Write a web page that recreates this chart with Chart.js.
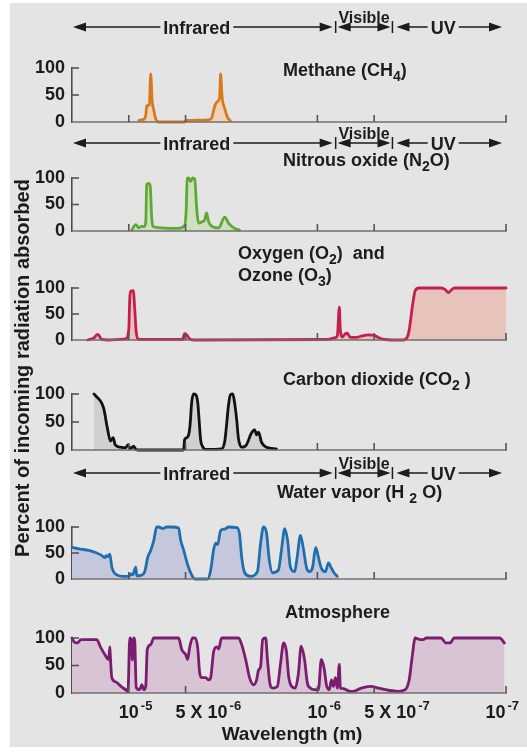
<!DOCTYPE html>
<html><head><meta charset="utf-8">
<script src="https://cdn.jsdelivr.net/npm/chart.js@4/dist/chart.umd.min.js"></script>
<style>
html,body{margin:0;padding:0;background:#fff;}
#wrap{position:relative;width:527px;height:752px;overflow:hidden;}
#bg{position:absolute;left:10px;top:3px;width:517px;height:744px;background:#e4e4e4;}
canvas{position:absolute;left:0;top:0;}
</style></head><body>
<div id="wrap"><div id="bg"></div>
<canvas id="c0" width="527" height="752"></canvas>
<canvas id="c1" width="527" height="752"></canvas>
<canvas id="c2" width="527" height="752"></canvas>
<canvas id="c3" width="527" height="752"></canvas>
<canvas id="c4" width="527" height="752"></canvas>
<canvas id="c5" width="527" height="752"></canvas>
</div>
<script>
// ---------- DATA (wavelength in micrometres, absorption in %) ----------
const methaneWl = [8.85, 8.33, 8.13, 8.03, 7.78, 7.65, 7.52, 7.37, 7.20, 6.94,
  5.06, 4.94, 3.77, 3.63, 3.50, 3.38, 3.30, 3.26, 3.20, 3.10, 2.99, 2.89];
const methaneAbs = [3, 5, 12, 30, 32, 89, 40, 22, 6, 0,
  0, 3, 4, 8, 30, 38, 45, 89, 45, 25, 8, 2];

const n2oWl = [9.64, 9.18, 8.85, 8.53, 8.33, 8.13, 8.03, 7.84, 7.70, 7.56,
  7.37, 5.44, 5.06, 4.96, 4.90, 4.81, 4.70, 4.59, 4.47, 4.37,
  4.26, 4.11, 3.96, 3.87, 3.77, 3.60, 3.34, 3.10, 2.96, 2.75, 2.59];
const n2oAbs = [2, 12, 6, 9, 8, 15, 88, 90, 85, 25,
  8, 5, 10, 40, 99, 100, 93, 100, 98, 45,
  15, 17, 21, 34, 17, 8, 6, 26, 15, 5, 2];

const ozoneWl = [16.5, 15.3, 14.6, 13.9, 12.8, 10.4, 10.0, 9.88, 9.76, 9.47,
  9.30, 9.13, 8.85, 5.18, 5.06, 4.94, 4.76, 4.53, 0.874, 0.813,
  0.784, 0.765, 0.756, 0.737, 0.711, 0.694, 0.669, 0.620, 0.578, 0.537,
  0.500, 0.470, 0.442, 0.350, 0.334, 0.326, 0.314, 0.303, 0.289, 0.221,
  0.210, 0.202, 0.195, 0.188, 0.100];
const ozoneAbs = [0, 4, 11, 1, 0, 2, 20, 80, 94, 95,
  60, 15, 1, 1, 12, 10, 2, 0, 1, 4,
  8, 63, 20, 6, 12, 13, 5, 5, 8, 10,
  9, 4, 1, 0, 5, 19, 63, 95, 100, 100,
  97, 91, 96, 100, 100];

const co2Wl = [15.3, 15.0, 13.6, 13.0, 12.5, 12.1, 11.8, 11.1, 10.4, 10.1,
  9.80, 9.41, 9.18, 8.85, 5.12, 5.06, 4.99, 4.84, 4.73, 4.64,
  4.53, 4.42, 4.31, 4.23, 4.16, 4.06, 3.91, 3.22, 3.10, 3.03,
  2.96, 2.89, 2.81, 2.75, 2.68, 2.62, 2.52, 2.38, 2.24, 2.15,
  2.10, 2.05, 1.98, 1.86, 1.65];
const co2Abs = [100, 97, 75, 40, 16, 22, 9, 5, 4, 9,
  2, 7, 1, 0, 0, 18, 21, 25, 45, 85,
  100, 99, 85, 50, 18, 6, 1, 2, 15, 45,
  80, 99, 100, 85, 55, 20, 5, 9, 30, 36,
  27, 32, 14, 5, 2];

const waterWl = [20.0, 18.4, 16.3, 15.0, 14.0, 13.4, 13.2, 12.9, 12.6, 12.3,
  11.6, 10.6, 10.0, 9.76, 9.53, 9.18, 9.07, 8.64, 8.23, 7.93,
  7.65, 7.37, 7.11, 6.94, 6.61, 6.29, 5.92, 5.44, 5.31, 5.12,
  4.87, 4.64, 4.47, 3.82, 3.68, 3.55, 3.46, 3.38, 3.26, 3.10,
  2.96, 2.68, 2.59, 2.52, 2.43, 2.26, 2.08, 2.00, 1.93, 1.86,
  1.80, 1.73, 1.61, 1.55, 1.49, 1.44, 1.39, 1.32, 1.28, 1.23,
  1.19, 1.14, 1.10, 1.06, 1.02, 0.988, 0.953, 0.907, 0.874, 0.843,
  0.823, 0.784];
const waterAbs = [61, 58, 55, 51, 46, 41, 45, 43, 48, 23,
  8, 5, 5, 10, 8, 23, 6, 7, 14, 42,
  55, 74, 100, 100, 97, 100, 100, 98, 75, 56,
  27, 8, 0, 0, 17, 56, 69, 66, 93, 96,
  100, 99, 88, 42, 12, 5, 14, 69, 100, 88,
  37, 12, 17, 56, 97, 75, 23, 14, 42, 84,
  61, 21, 14, 23, 61, 42, 21, 14, 31, 21,
  14, 5];

const atmoWl = [20.0, 19.5, 18.8, 17.9, 16.3, 14.8, 14.1, 13.4, 12.8, 12.6,
  12.5, 12.3, 11.7, 11.0, 10.4, 10.1, 9.88, 9.70, 9.58, 9.41,
  9.30, 9.13, 8.75, 8.53, 8.33, 8.13, 7.98, 7.65, 7.37, 5.44,
  5.24, 4.99, 4.87, 4.76, 4.59, 4.45, 4.31, 4.21, 4.11, 3.91,
  3.77, 3.68, 3.55, 3.42, 3.34, 3.22, 2.62, 2.52, 2.40, 2.29,
  2.18, 2.10, 2.05, 2.00, 1.95, 1.88, 1.84, 1.78, 1.73, 1.63,
  1.57, 1.51, 1.46, 1.42, 1.37, 1.31, 1.26, 1.22, 1.17, 1.13,
  1.09, 1.04, 0.988, 0.953, 0.918, 0.896, 0.864, 0.843, 0.823, 0.803,
  0.784, 0.765, 0.756, 0.729, 0.685, 0.645, 0.585, 0.524, 0.475, 0.421,
  0.372, 0.342, 0.326, 0.314, 0.303, 0.292, 0.275, 0.265, 0.221, 0.208,
  0.198, 0.188, 0.108, 0.102];
const atmoAbs = [100, 93, 91, 97, 97, 97, 83, 70, 61, 84,
  61, 28, 20, 12, 6, 2, 100, 95, 60, 100,
  95, 10, 6, 15, 6, 12, 79, 88, 100, 100,
  79, 70, 61, 82, 100, 100, 82, 37, 28, 28,
  24, 28, 75, 84, 80, 100, 100, 88, 61, 28,
  15, 24, 42, 48, 97, 100, 61, 15, 9, 12,
  52, 91, 76, 30, 12, 9, 36, 85, 61, 18,
  9, 6, 6, 61, 42, 15, 6, 24, 12, 28,
  9, 52, 9, 8, 4, 3, 9, 12, 9, 5,
  3, 6, 24, 67, 100, 98, 97, 100, 100, 91,
  91, 100, 100, 91];

const tickWl = [1e-5, 5e-6, 1e-6, 5e-7, 1e-7];          // metres
const tickBase = ["10", "5 X 10", "10", "5 X 10", "10"];
const tickExp = ["-5", "-6", "-6", "-7", "-7"];
const yTicks = [0, 50, 100];
const bandEdgesUm = [20, 0.80, 0.40, 0.105];
const bandNames = ["Infrared", "Visible", "UV"];
const yTitle = "Percent of incoming radiation absorbed";
const xTitle = "Wavelength (m)";

// ---------- LAYOUT / STYLE ----------
const W = 527, H = 752;
const FONT = "'Liberation Sans', Arial, Helvetica, sans-serif";
const INK = '#1c1c1c';
const f = (s) => `bold ${s}px ${FONT}`;

const panels = [
  {wl: methaneWl, abs: methaneAbs, line: '#d8791d', fill: '#efd2b8', top: 68, bottom: 122, band: 27,
   title: [{x: 283, y: 76, seg: [["Methane (CH", 0], ["4", 1], [")", 0]]}]},
  {wl: n2oWl, abs: n2oAbs, line: '#5ea833', fill: '#cfe0c0', top: 178, bottom: 231, band: 143,
   title: [{x: 283, y: 166, seg: [["Nitrous oxide (N", 0], ["2", 1], ["O)", 0]]}]},
  {wl: ozoneWl, abs: ozoneAbs, line: '#c41f4c', fill: '#e8c3bc', top: 288, bottom: 340,
   title: [{x: 238, y: 259, seg: [["Oxygen (O", 0], ["2", 1], [")  and", 0]]},
           {x: 238, y: 281, seg: [["Ozone (O", 0], ["3", 1], [")", 0]]}]},
  {wl: co2Wl, abs: co2Abs, line: '#111111', fill: '#d0d0d0', top: 394, bottom: 450,
   title: [{x: 283, y: 385, seg: [["Carbon dioxide (CO", 0], ["2", 1], [" )", 0]]}]},
  {wl: waterWl, abs: waterAbs, line: '#1f6fae', fill: '#c5c7dc', top: 527, bottom: 579, band: 473,
   title: [{x: 277, y: 498, seg: [["Water vapor (H ", 0], ["2", 1], [" O)", 0]]}]},
  {wl: atmoWl, abs: atmoAbs, line: '#7b1d6e', fill: '#d8c4d4', top: 638, bottom: 693, last: true,
   title: [{x: 285, y: 618, seg: [["Atmosphere", 0]]}]}
];

function arrowHead(ctx, x, y, dir) {
  ctx.beginPath();
  ctx.moveTo(x, y);
  ctx.lineTo(x - dir * 13, y - 4.5);
  ctx.lineTo(x - dir * 13, y + 4.5);
  ctx.closePath();
  ctx.fill();
}
function hline(ctx, x1, x2, y) {
  ctx.beginPath(); ctx.moveTo(x1, y); ctx.lineTo(x2, y); ctx.stroke();
}
function labeledArrow(ctx, x1, x2, y, text, cx) {
  ctx.font = f(18);
  const w = ctx.measureText(text).width;
  hline(ctx, x1 + 4, cx - w / 2 - 3, y);
  hline(ctx, cx + w / 2 + 3, x2 - 4, y);
  arrowHead(ctx, x1, y, -1);
  arrowHead(ctx, x2, y, 1);
  ctx.textAlign = 'center'; ctx.textBaseline = 'alphabetic';
  ctx.fillText(text, cx, y + 6.5);
}
function drawBand(ctx, xs, y) {
  const e = bandEdgesUm.map(v => xs.getPixelForValue(v * 1e-6));
  ctx.fillStyle = INK; ctx.strokeStyle = INK; ctx.lineWidth = 1.5;
  [e[1], e[2]].forEach(x => { ctx.beginPath(); ctx.moveTo(x, y - 6); ctx.lineTo(x, y + 6); ctx.stroke(); });
  labeledArrow(ctx, e[0] + 1, e[1] - 3, y, bandNames[0], (e[0] + e[1]) / 2 - 7);
  hline(ctx, e[1] + 4, e[2] - 4, y);
  arrowHead(ctx, e[1] + 2, y, -1);
  arrowHead(ctx, e[2] - 2, y, 1);
  ctx.font = f(16); ctx.textAlign = 'center'; ctx.textBaseline = 'alphabetic';
  ctx.fillText(bandNames[1], (e[1] + e[2]) / 2, y - 4);
  labeledArrow(ctx, e[2] + 4, e[3], y, bandNames[2], (e[2] + e[3]) / 2 - 4);
}
function drawTitle(ctx, t) {
  let x = t.x;
  ctx.textAlign = 'left'; ctx.textBaseline = 'alphabetic'; ctx.fillStyle = INK;
  t.seg.forEach(([s, sub]) => {
    ctx.font = sub ? f(14) : f(18);
    ctx.fillText(s, x, sub ? t.y + 5 : t.y);
    x += ctx.measureText(s).width;
  });
}

function decor(p) {
  return {
    id: 'decor',
    afterDraw(chart) {
      const ctx = chart.ctx, xs = chart.scales.x, ys = chart.scales.y, a = chart.chartArea;
      ctx.save();
      ctx.strokeStyle = '#707070'; ctx.lineWidth = 1.6;
      hline(ctx, a.left, a.right + 1, a.bottom);
      ctx.strokeStyle = '#555';
      tickWl.forEach(v => {
        const x = xs.getPixelForValue(v);
        ctx.beginPath(); ctx.moveTo(x, a.bottom); ctx.lineTo(x, a.bottom - 7); ctx.stroke();
      });
      yTicks.filter(v => v > 0).forEach(v => {
        const y = ys.getPixelForValue(v);
        hline(ctx, a.left, a.left + 7, y);
      });
      p.title.forEach(t => drawTitle(ctx, t));
      if (p.band) drawBand(ctx, xs, p.band);
      if (p.last) {
        ctx.fillStyle = INK; ctx.textAlign = 'left'; ctx.textBaseline = 'alphabetic';
        tickWl.forEach((v, i) => {
          const x = xs.getPixelForValue(v);
          ctx.font = f(18); const wb = ctx.measureText(tickBase[i]).width;
          ctx.font = f(13); const we = ctx.measureText(tickExp[i]).width;
          const w = wb + 2 + we;
          let left = x - 10;
          if (left + w > 519) left = 519 - w;
          ctx.font = f(18); ctx.fillText(tickBase[i], left, a.bottom + 25);
          ctx.font = f(13); ctx.fillText(tickExp[i], left + wb + 2, a.bottom + 17);
        });
        ctx.font = f(19); ctx.textAlign = 'center';
        ctx.fillText(xTitle, (a.left + a.right) / 2 + 3, a.bottom + 47);
        ctx.save();
        ctx.translate(29, 368);
        ctx.rotate(-Math.PI / 2);
        ctx.font = f(20); ctx.textAlign = 'center';
        ctx.fillText(yTitle, 0, 0);
        ctx.restore();
      }
      ctx.restore();
    }
  };
}

panels.forEach((p, i) => {
  const data = p.wl.map((w, k) => ({x: w * 1e-6, y: p.abs[k]}));
  new Chart(document.getElementById('c' + i), {
    type: 'line',
    data: {datasets: [{
      data, borderColor: p.line, backgroundColor: p.fill, fill: 'origin',
      borderWidth: 2.8, pointRadius: 0, cubicInterpolationMode: 'monotone',
      clip: 6, borderJoinStyle: 'round', borderCapStyle: 'round'
    }]},
    options: {
      responsive: false, animation: false, devicePixelRatio: 1, events: [],
      layout: {padding: {top: p.top, bottom: H - p.bottom, left: 0, right: W - 506}},
      plugins: {legend: {display: false}, tooltip: {enabled: false}},
      scales: {
        x: {type: 'logarithmic', reverse: true, min: 1e-7, max: 2e-5, display: false},
        y: {
          min: 0, max: 100,
          afterFit(s) { s.width = 72; },
          afterBuildTicks(s) { s.ticks = yTicks.map(v => ({value: v})); },
          ticks: {font: {family: FONT, size: 18, weight: 'bold'}, color: INK, padding: 7},
          grid: {drawOnChartArea: false, drawTicks: false},
          border: {display: true, color: '#4d4d4d', width: 1.6}
        }
      }
    },
    plugins: [decor(p)]
  });
});
</script>
</body></html>
